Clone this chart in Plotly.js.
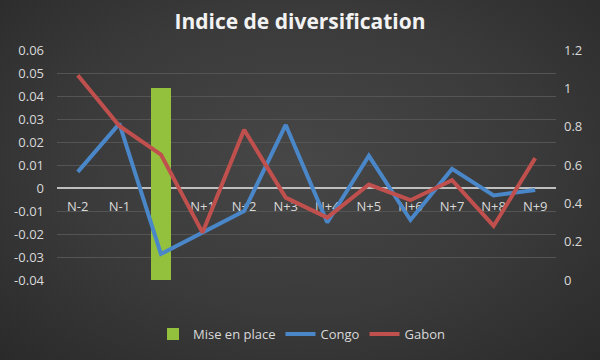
<!DOCTYPE html>
<html>
<head>
<meta charset="utf-8">
<script src="https://cdn.plot.ly/plotly-3.0.1.min.js"></script>
<style>
html,body{margin:0;padding:0;background:#383838;}
#chart{width:600px;height:360px;background:radial-gradient(ellipse at 50% 45%, #474747 0%, #3a3a3a 55%, #2a2a2a 100%);}
</style>
</head>
<body>
<div id="chart"></div>
<script>
const categories = ["N-2","N-1","N","N+1","N+2","N+3","N+4","N+5","N+6","N+7","N+8","N+9"];
const miseEnPlace = [null,null,1,null,null,null,null,null,null,null,null,null];
const congo = [0.007,0.028,-0.0287,-0.0194,-0.010,0.0274,-0.015,0.014,-0.0139,0.0083,-0.0032,-0.0009];
const gabon = [0.049,0.027,0.0145,-0.0194,0.0253,-0.0042,-0.0129,0.0015,-0.0053,0.0034,-0.0165,0.013];
const leftTicks = [-0.04,-0.03,-0.02,-0.01,0,0.01,0.02,0.03,0.04,0.05,0.06];
const rightTicks = [0,0.2,0.4,0.6,0.8,1,1.2];

const fontFam = '"Open Sans", "Noto Sans", sans-serif';
const traces = [
  {type:'bar', name:'Mise en place', x:categories, y:miseEnPlace, yaxis:'y',
   marker:{color:'#93c13e'}, width:0.49, showlegend:true},
  {type:'scatter', mode:'lines', name:'Congo', x:categories, y:congo, yaxis:'y2',
   line:{color:'#4a87c9', width:4}},
  {type:'scatter', mode:'lines', name:'Gabon', x:categories, y:gabon, yaxis:'y2',
   line:{color:'#c0504d', width:4}}
];
const layout = {
  width:600, height:360,
  paper_bgcolor:'rgba(0,0,0,0)', plot_bgcolor:'rgba(0,0,0,0)',
  margin:{l:57, r:44, t:50, b:78.5},
  title:{text:'<b>Indice de diversification</b>', x:0.5, xanchor:'center', y:0.94, yanchor:'middle',
         font:{family:fontFam, size:21, color:'#f2f2f2'}},
  font:{family:fontFam, size:13, color:'#d9d9d9'},
  showlegend:true,
  legend:{orientation:'h', x:0.49, xanchor:'center', y:-0.23, yanchor:'middle',
          font:{size:13, color:'#d9d9d9'}, bgcolor:'rgba(0,0,0,0)', traceorder:'normal'},
  bargap:0,
  xaxis:{type:'category', anchor:'free', position:0.4, showgrid:false, showline:false, zeroline:false,
         ticks:'outside', ticklen:6, tickcolor:'rgba(0,0,0,0)', layer:'below traces',
         tickfont:{size:13, color:'#d9d9d9'}},
  yaxis:{side:'right', range:[0,1.2], tickvals:rightTicks, ticktext:rightTicks.map(String),
         showgrid:false, zeroline:false, showline:false, ticks:'', ticklabelstandoff:7,
         tickfont:{size:13, color:'#d9d9d9'}},
  yaxis2:{overlaying:'y', side:'left', range:[-0.04,0.06], tickvals:leftTicks,
          ticktext:leftTicks.map(v=>String(Number(v.toFixed(2)))),
          showgrid:true, gridcolor:'#545454', gridwidth:1,
          zeroline:true, zerolinecolor:'#bfbfbf', zerolinewidth:1.5, showline:false, ticks:'',
          ticklabelstandoff:12, tickfont:{size:13, color:'#d9d9d9'}}
};
Plotly.newPlot('chart', traces, layout, {displayModeBar:false, staticPlot:true});
</script>
</body>
</html>
